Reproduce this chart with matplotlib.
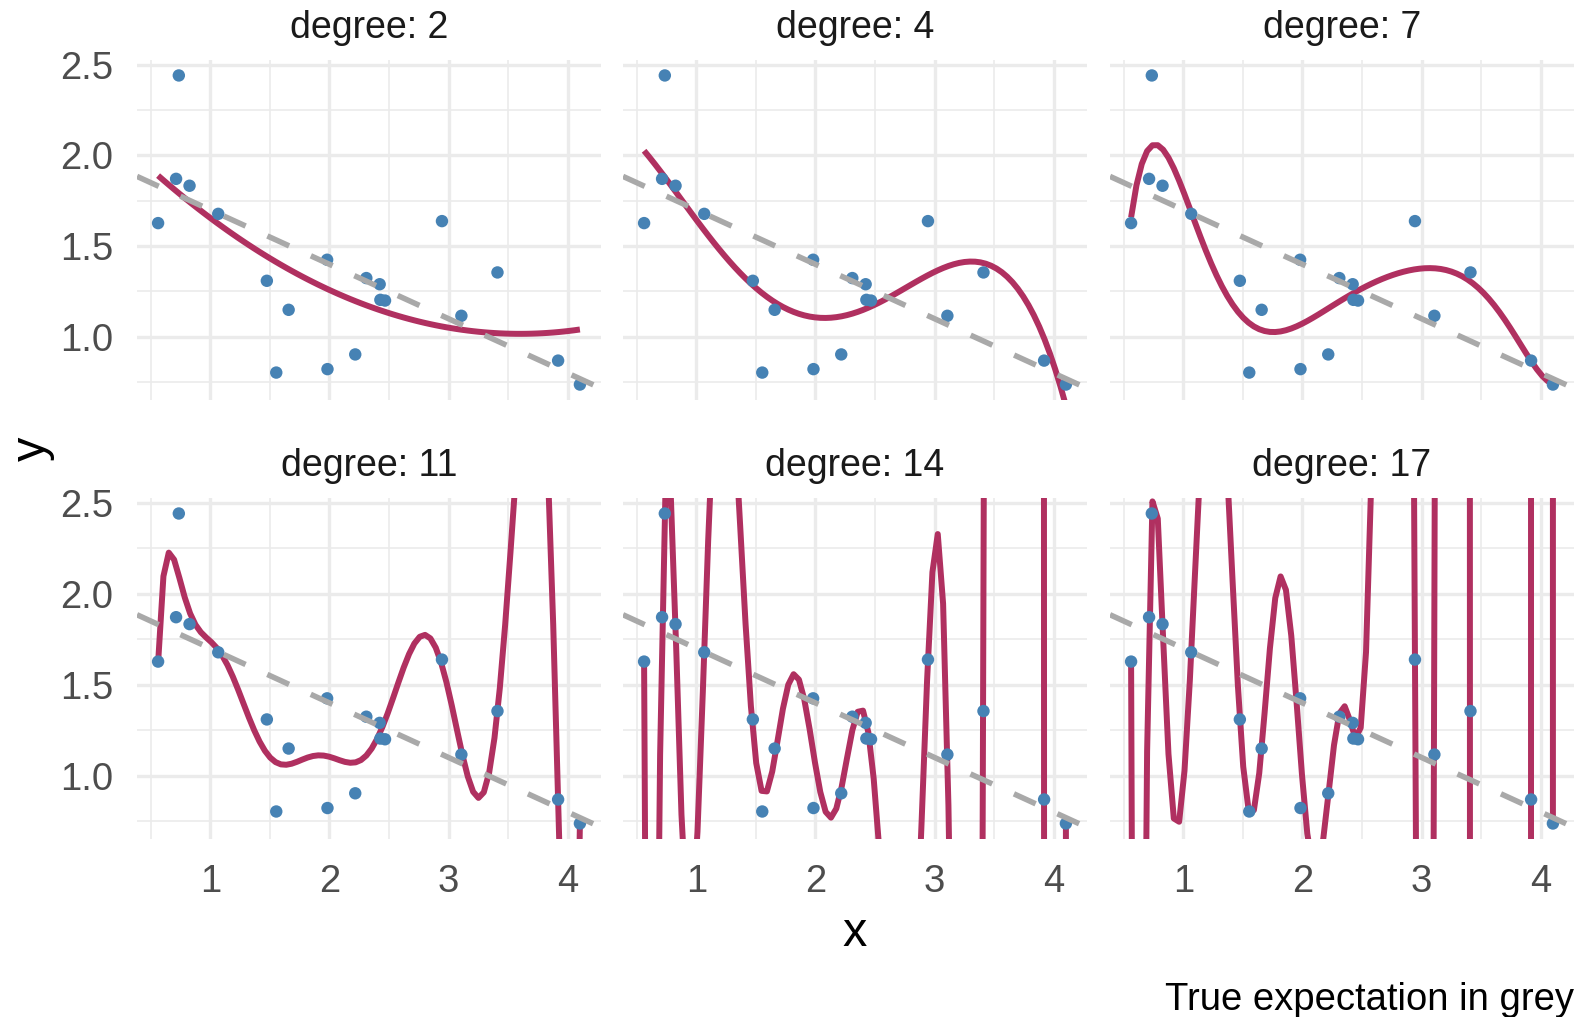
import numpy as np
import matplotlib
matplotlib.use("Agg")
import matplotlib.pyplot as plt
from matplotlib.ticker import FixedLocator

# ---- data ----
x_obs = [0.562, 0.736, 0.713, 0.826, 1.067, 1.475, 1.554, 1.658, 1.981, 1.984,
         2.217, 2.310, 2.422, 2.428, 2.467, 2.945, 3.108, 3.411, 3.920, 4.103]
y_obs = [1.627, 2.441, 1.871, 1.833, 1.678, 1.309, 0.803, 1.149, 1.425, 0.822,
         0.903, 1.324, 1.290, 1.204, 1.200, 1.638, 1.116, 1.355, 0.869, 0.737]
degrees = [2, 4, 7, 11, 14, 17]
true_intercept = 2.0
true_slope = -0.3
x_ticks = [1, 2, 3, 4]
x_minor = [0.5, 1.5, 2.5, 3.5]
y_ticks = [1.0, 1.5, 2.0, 2.5]
y_minor = [0.75, 1.25, 1.75, 2.25]
strip_labels = [f"degree: {d}" for d in degrees]
caption = "True expectation in grey"

plt.rcParams['font.family'] = ['Liberation Sans', 'DejaVu Sans']

W, H = 1578, 1017
fig = plt.figure(figsize=(W / 100, H / 100), dpi=100)
cols = [(137, 601), (623, 1087), (1110, 1574)]
rows = [(60, 400), (498, 839)]

x = np.asarray(x_obs)
y = np.asarray(y_obs)
xr = x.max() - x.min()
yr = y.max() - y.min()
xlim = (x.min() - 0.05 * xr, x.max() + 0.05 * xr)
ylim = (y.min() - 0.05 * yr, y.max() + 0.05 * yr)
xs = np.linspace(x.min(), x.max(), 80)

red = "#B03060"
blue = "#4682B4"
grey_line = "#A9A9A9"
grid_col = "#EBEBEB"

for i, d in enumerate(degrees):
    r, c = divmod(i, 3)
    x0, x1 = cols[c]
    y0, y1 = rows[r]
    ax = fig.add_axes([x0 / W, 1 - y1 / H, (x1 - x0) / W, (y1 - y0) / H])
    ax.set_xlim(*xlim)
    ax.set_ylim(*ylim)
    for s in ax.spines.values():
        s.set_visible(False)
    ax.xaxis.set_major_locator(FixedLocator(x_ticks))
    ax.yaxis.set_major_locator(FixedLocator(y_ticks))
    ax.xaxis.set_minor_locator(FixedLocator(x_minor))
    ax.yaxis.set_minor_locator(FixedLocator(y_minor))
    ax.grid(True, which='major', color=grid_col, lw=2.4, zorder=0)
    ax.grid(True, which='minor', color=grid_col, lw=1.2, zorder=0)
    ax.set_axisbelow(True)
    ax.tick_params(which='both', length=0)
    ax.tick_params(axis='x', labelsize=27.5, labelcolor='#4D4D4D', pad=18)
    ax.tick_params(axis='y', labelsize=27.5, labelcolor='#4D4D4D', pad=17)
    ax.set_yticklabels([f"{v:.1f}" for v in y_ticks])
    ax.set_xticklabels([f"{v:g}" for v in x_ticks])
    if c != 0:
        ax.tick_params(axis='y', labelleft=False)
    if r != 1:
        ax.tick_params(axis='x', labelbottom=False)

    # polynomial least-squares fit of the observed points
    p = np.polynomial.Polynomial.fit(x, y, d)
    ax.plot(xs, p(xs), color=red, lw=4.3, zorder=2, solid_capstyle='butt')
    ax.scatter(x, y, s=80, color=blue, edgecolors='none', zorder=3)
    ax.axline((0, true_intercept), slope=true_slope, color=grey_line, lw=4.0,
              dashes=(4.3, 4.3), zorder=4)

    fig.text(((x0 + x1) / 2) / W, 1 - (y0 - 22) / H, strip_labels[i],
             ha='center', va='baseline', fontsize=27, color='#1A1A1A')

fig.text(855 / W, 1 - 946 / H, "x", ha='center', va='baseline', fontsize=35)
fig.text(32 / W, 1 - 449 / H, "y", ha='center', va='center', fontsize=35,
         rotation=90)
fig.text(1574 / W, 1 - 1010 / H, caption, ha='right', va='baseline',
         fontsize=27.5)

fig.savefig("out.png", dpi=100, facecolor='white')
